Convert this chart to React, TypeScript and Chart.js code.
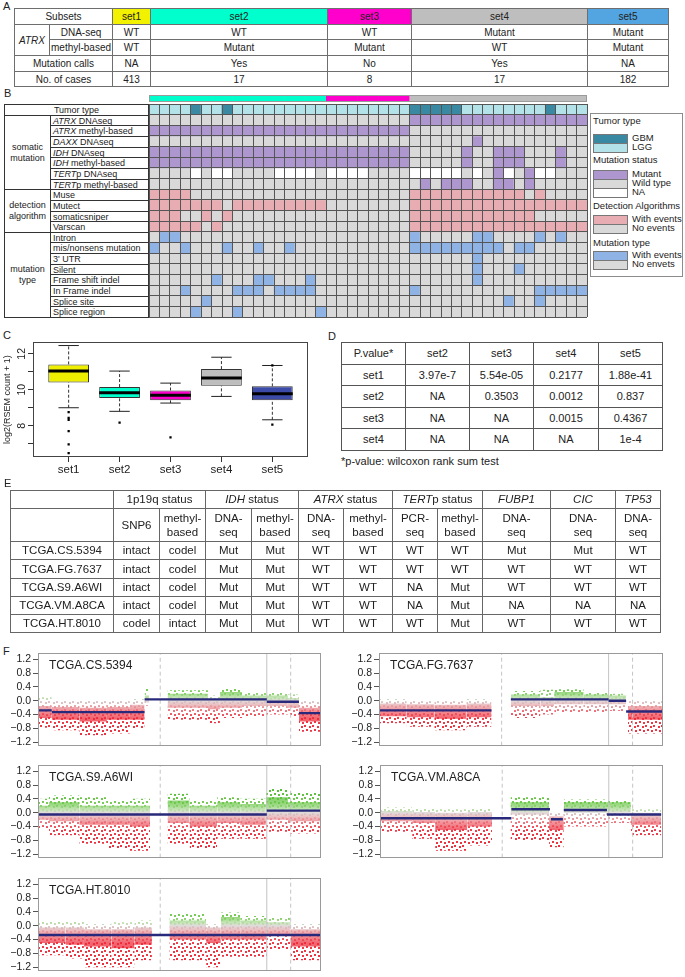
import React, { useEffect, useRef } from 'react';
import { Chart, registerables } from 'chart.js';

Chart.register(...registerables);

const FONT = '"Liberation Sans", Arial, Helvetica, sans-serif';
Chart.defaults.font.family = FONT;
Chart.defaults.color = '#222';

/* ---------------- Panel A data ---------------- */
const subsetNames = ['set1', 'set2', 'set3', 'set4', 'set5'];
const subsetColors = ['#f2f200', '#00ffcc', '#ff00cc', '#bebebe', '#52a5e0'];
const atrxDnaSeq = ['WT', 'WT', 'WT', 'Mutant', 'Mutant'];
const atrxMethyl = ['WT', 'Mutant', 'Mutant', 'WT', 'Mutant'];
const mutationCalls = ['NA', 'Yes', 'No', 'Yes', 'NA'];
const caseCounts = ['413', '17', '8', '17', '182'];

/* ---------------- Panel B data ---------------- */
const heatSetSizes = [17, 8, 17];
const heatSetColors = ['#00ffcc', '#ff00cc', '#bebebe'];
const heatRowKinds = ['tumor', 'mut', 'mut', 'mut', 'mut', 'mut', 'mut', 'mut', 'det', 'det', 'det', 'det', 'type', 'type', 'type', 'type', 'type', 'type', 'type', 'type'];
const heatRows = [
  'LLLLGLLGLLLLLLLLL' + 'LLLLLLLL' + 'GGGGGLLLLLLLLGLLL',
  'WWWWWWWWWWWWWWWWW' + 'WWWWWWWW' + 'MMMMMMMMMMMMMMMMM',
  'MMMMMMMMMMMMMMMMM' + 'MMMMMMMM' + 'WWWWWWWWWWWWWWWWW',
  'WWWWWWWWWWWWWWWWW' + 'WWWWWWWW' + 'WWWWWWMWWWWWWWWWW',
  'MMMMMMMMMMMMMMMMM' + 'MMMMMMMM' + 'WWWWWMWWMMMWWWMWW',
  'MMMMMMMMMMMMMMMMM' + 'MMMMMMMM' + 'WWWWWMWWMMMWWWMWW',
  'WWWWNWNNWWWWNNNNW' + 'NNNNWWWW' + 'NNNNNWNWMNWMNNWWW',
  'WWWWWWWWWWWWWWWWW' + 'WWWWWWWW' + 'WMWMMMWWMMWMWWWWW',
  'EEEENNNNNNNNNNNNN' + 'NNNNNNNN' + 'EEEEEEEEEEENENNNN',
  'EEEEEEENEEEEEEEEE' + 'NNNNNNNN' + 'EEEEEEEEEEEEEEEEE',
  'EEENNENENNNNNNNNN' + 'NNNNNNNN' + 'EEEEEEEEEEEENNNNN',
  'EEEEENENNNNNNNNNN' + 'NNNNNNNN' + 'EEEEEEEEEEEEEEEEE',
  'NBBNNNNNNNNNNNNNN' + 'NNNNNNNN' + 'BNNNNNBBNNNNBNBNN',
  'BNNBNNNBNNBNNBNNN' + 'NNNNNNNN' + 'BBBBBBBBBNBBNNNNN',
  'NNNNNNNNNNNNNNNNN' + 'NNNNNNNN' + 'NNNNNNBNNNNNNNNNN',
  'NNNNNNNNNNNNNNNNN' + 'NNNNNNNN' + 'NNNNNNBNNNBNNNNNN',
  'NNNNNNBNNNBBNNNBN' + 'NNNNNNNN' + 'NNNNNNBNNNNNNNNNN',
  'NNNBNNNNBBBNBBBBN' + 'NNNNNNNN' + 'BNNNNNNNNNNNBBBBB',
  'NNNNNBNNNNNNNNNNN' + 'NNNNNNNN' + 'NNNNNNNNNBNNBNNNN',
  'NNNNBNNNBNNNNNNNB' + 'NNNNNNNN' + 'NNNNNNNNNNNNNNNNN',
];
const heatLabelItalic = ['', 'ATRX', 'ATRX', 'DAXX', 'IDH', 'IDH', 'TERT', 'TERT', '', '', '', '', '', '', '', '', '', '', '', ''];
const heatLabelRest = ['Tumor type', ' DNAseq', ' methyl-based', ' DNAseq', ' DNAseq', ' methyl-based', 'p DNAseq', 'p methyl-based', 'Muse', 'Mutect', 'somaticsniper', 'Varscan', 'Intron', 'mis/nonsens mutation', "3' UTR", 'Silent', 'Frame shift indel', 'In Frame indel', 'Splice site', 'Splice region'];
const heatGroupLabels = ['somatic\nmutation', 'detection\nalgorithm', 'mutation\ntype'];
const heatGroupStarts = [1, 8, 12];
const heatGroupEnds = [8, 12, 20];
const heatPalette: Record<string, Record<string, string>> = {
  tumor: { G: '#3a89a2', L: '#b3e2e8' },
  mut: { M: '#ae96ce', W: '#d9d9d9', N: '#ffffff' },
  det: { E: '#e8adb3', N: '#d9d9d9' },
  type: { B: '#8eb3e4', N: '#d9d9d9' },
};
const legendTitles = ['Tumor type', 'Mutation status', 'Detection Algorithms', 'Mutation type'];
const legendLabels = [['GBM', 'LGG'], ['Mutant', 'Wild type', 'NA'], ['With events', 'No events'], ['With events', 'No envets']];
const legendColors = [
  [heatPalette.tumor.G, heatPalette.tumor.L],
  [heatPalette.mut.M, heatPalette.mut.W, heatPalette.mut.N],
  [heatPalette.det.E, heatPalette.det.N],
  [heatPalette.type.B, heatPalette.type.N],
];

/* ---------------- Panel C data ---------------- */
const boxSets = ['set1', 'set2', 'set3', 'set4', 'set5'];
const boxColors = ['#eeee00', '#00ffcc', '#ff00cc', '#bebebe', '#3c4aa8'];
const boxWhiskerLow = [9.0, 8.8, 9.26, 9.63, 8.33];
const boxQ1 = [10.41, 9.54, 9.41, 10.22, 9.41];
const boxMedian = [11.04, 9.83, 9.69, 10.65, 9.78];
const boxQ3 = [11.41, 10.15, 9.96, 11.15, 10.19];
const boxWhiskerHigh = [12.46, 11.04, 10.37, 11.81, 11.35];
const boxOutliers = [[8.76, 8.44, 8.33, 7.7, 6.96, 6.48], [8.17], [7.35], [], [11.35, 8.06]];
const boxYTicks = [7, 8, 9, 10, 11, 12];

/* ---------------- Panel D data ---------------- */
const pColNames = ['set2', 'set3', 'set4', 'set5'];
const pRowNames = ['set1', 'set2', 'set3', 'set4'];
const pValues = [
  ['3.97e-7', '5.54e-05', '0.2177', '1.88e-41'],
  ['NA', '0.3503', '0.0012', '0.837'],
  ['NA', 'NA', '0.0015', '0.4367'],
  ['NA', 'NA', 'NA', '1e-4'],
];

/* ---------------- Panel E data ---------------- */
const eGroupItalic = ['', 'IDH', 'ATRX', 'TERT', 'FUBP1', 'CIC', 'TP53'];
const eGroupRest = ['1p19q status', ' status', ' status', 'p status', '', '', ''];
const eGroupSpans = [2, 2, 2, 2, 1, 1, 1];
const eSubHeaders = ['SNP6', 'methyl-\nbased', 'DNA-\nseq', 'methyl-\nbased', 'DNA-\nseq', 'methyl-\nbased', 'PCR-\nseq', 'methyl-\nbased', 'DNA-\nseq', 'DNA-\nseq', 'DNA-\nseq'];
const eSamples = ['TCGA.CS.5394', 'TCGA.FG.7637', 'TCGA.S9.A6WI', 'TCGA.VM.A8CA', 'TCGA.HT.8010'];
const eValues = [
  ['intact', 'codel', 'Mut', 'Mut', 'WT', 'WT', 'WT', 'WT', 'Mut', 'Mut', 'WT'],
  ['intact', 'codel', 'Mut', 'Mut', 'WT', 'WT', 'WT', 'WT', 'WT', 'WT', 'WT'],
  ['intact', 'codel', 'Mut', 'Mut', 'WT', 'WT', 'NA', 'Mut', 'WT', 'WT', 'WT'],
  ['intact', 'codel', 'Mut', 'Mut', 'WT', 'WT', 'NA', 'Mut', 'NA', 'NA', 'NA'],
  ['codel', 'intact', 'Mut', 'Mut', 'WT', 'WT', 'WT', 'Mut', 'WT', 'WT', 'WT'],
];

/* ---------------- Panel F data (Mb position, log ratio) ---------------- */
const cnvYTicks = [-1.2, -0.8, -0.4, 0, 0.4, 0.8, 1.2];
const cnvYMin = -1.3;
const cnvYMax = 1.37;
const cnvXMax = 308;
const cnvBoundaries = [133, 249, 275];
const cnvBoundaryDashed = [true, false, true];
// bins: [start, end, low, q1, q3, high]
const cnvBins1 = [
  [0, 15, -0.78, -0.5, -0.15, 0.1], [15, 45, -0.85, -0.55, -0.18, 0.02], [45, 75, -1.0, -0.6, -0.2, 0.0],
  [75, 100, -0.95, -0.55, -0.18, 0.02], [100, 116, -0.8, -0.55, -0.12, 0.05], [116, 121, -0.15, -0.05, 0.15, 0.35],
  [141, 185, -0.55, -0.2, 0.2, 0.3], [185, 198, -0.65, -0.25, 0.05, 0.15], [198, 222, -0.5, -0.2, 0.25, 0.35],
  [222, 249, -0.45, -0.15, 0.15, 0.25], [249, 272, -0.4, -0.15, 0.15, 0.25], [272, 284, -0.45, -0.2, 0.08, 0.18],
  [284, 308, -0.9, -0.6, -0.2, 0.0],
];
const cnvBins2 = [
  [0, 30, -0.65, -0.45, -0.08, 0.05], [30, 60, -0.75, -0.48, -0.1, 0.02], [60, 95, -0.85, -0.52, -0.12, 0.0],
  [95, 122, -0.75, -0.48, -0.08, 0.05], [143, 175, -0.5, -0.15, 0.18, 0.28], [175, 190, -0.4, -0.15, 0.1, 0.32],
  [190, 222, -0.35, -0.1, 0.25, 0.33], [222, 249, -0.35, -0.1, 0.18, 0.25], [249, 268, -0.3, -0.1, 0.15, 0.2],
  [270, 307, -0.95, -0.55, -0.15, 0.0],
];
const cnvBins3 = [
  [0, 12, -0.45, -0.2, 0.2, 0.4], [12, 45, -0.65, -0.25, 0.3, 0.5], [45, 75, -0.9, -0.35, 0.2, 0.45],
  [75, 100, -1.05, -0.35, 0.2, 0.35], [100, 122, -1.1, -0.4, 0.2, 0.4], [141, 165, -0.9, -0.3, 0.35, 0.55],
  [165, 195, -1.05, -0.4, 0.2, 0.35], [195, 220, -0.75, -0.3, 0.3, 0.45], [220, 248, -0.75, -0.35, 0.25, 0.4],
  [248, 272, -0.55, -0.2, 0.45, 0.7], [272, 307, -0.6, -0.25, 0.3, 0.6],
];
const cnvBins4 = [
  [0, 35, -0.55, -0.25, 0.05, 0.15], [35, 60, -0.75, -0.3, 0.02, 0.12], [60, 95, -1.1, -0.5, 0.0, 0.1],
  [95, 122, -0.95, -0.4, 0.02, 0.12], [142, 184, -0.8, -0.05, 0.3, 0.45], [184, 200, -1.0, -0.5, -0.1, 0.0],
  [200, 247, -0.4, 0.0, 0.3, 0.38], [247, 273, -0.3, 0.0, 0.3, 0.35], [273, 306, -0.65, -0.35, 0.0, 0.1],
];
const cnvBins5 = [
  [0, 30, -0.85, -0.5, -0.05, 0.12], [30, 50, -0.95, -0.55, -0.05, 0.12], [50, 80, -1.2, -0.6, -0.1, 0.05],
  [80, 105, -1.2, -0.65, -0.1, 0.1], [105, 124, -1.0, -0.55, -0.05, 0.15], [143, 183, -1.0, -0.4, 0.15, 0.35],
  [183, 199, -1.2, -0.5, -0.05, 0.05], [199, 220, -0.9, -0.4, 0.25, 0.38], [220, 249, -0.9, -0.4, 0.15, 0.28],
  [249, 275, -0.7, -0.3, 0.1, 0.25], [275, 308, -1.0, -0.6, -0.1, 0.05],
];
// segments: [start, end, value]
const cnvSegs1 = [[0, 15, -0.28], [15, 116, -0.33], [116, 249, 0.04], [249, 284, -0.03], [284, 308, -0.36]];
const cnvSegs2 = [[0, 122, -0.28], [143, 249, 0.04], [249, 268, 0.0], [268, 307, -0.31]];
const cnvSegs3 = [[0, 249, -0.05], [249, 308, 0.06]];
const cnvSegs4 = [[0, 143, -0.16], [143, 185, 0.1], [186, 199, -0.19], [200, 247, 0.08], [247, 306, -0.05]];
const cnvSegs5 = [[0, 308, -0.27]];
const cnvColorStops: [number, number[]][] = [
  [0.6, [70, 185, 35]], [0.25, [110, 200, 75]], [0.08, [180, 220, 160]], [0, [212, 204, 204]],
  [-0.12, [228, 168, 172]], [-0.3, [236, 100, 110]], [-0.5, [237, 40, 55]], [-1.3, [232, 20, 35]],
];
// stipple texture (8x8 tile, kept 2x2 dots) used to break the outer point spread into dots
const stippleHoles = [[0, 0], [5, 1], [2, 4], [6, 5]];

/* ---------------- helpers ---------------- */
function ChartBox({ left, top, width, height, make }: { left: number; top: number; width: number; height: number; make: () => any }) {
  const ref = useRef<HTMLCanvasElement>(null);
  useEffect(() => {
    const chart = new Chart(ref.current as HTMLCanvasElement, make());
    return () => chart.destroy();
  }, []);
  return <canvas ref={ref} width={width} height={height} style={{ position: 'absolute', left, top, width, height }} />;
}

const framePlugin = (color: string) => ({
  id: 'frame',
  afterDraw(chart: any) {
    const { ctx, chartArea: a } = chart;
    ctx.save();
    ctx.strokeStyle = color;
    ctx.lineWidth = 1;
    const l = Math.round(a.left), t = Math.round(a.top), r = Math.round(a.right), b = Math.round(a.bottom);
    ctx.strokeRect(l + 0.5, t + 0.5, r - l - 1, b - t - 1);
    ctx.restore();
  },
});

type Cell = { r: number; c: number; rs?: number; cs?: number; t?: React.ReactNode; bg?: string; align?: 'left' | 'center'; pad?: number; lh?: number };
function GridTable({ xs, ys, cells, line, fontSize }: { xs: number[]; ys: number[]; cells: Cell[]; line: string; fontSize: number }) {
  const x0 = xs[0], y0 = ys[0];
  return (
    <div style={{ position: 'absolute', left: x0, top: y0, width: xs[xs.length - 1] - x0 + 1, height: ys[ys.length - 1] - y0 + 1, fontSize }}>
      {cells.map((cl, i) => {
        const cs = cl.cs || 1, rs = cl.rs || 1;
        return (
          <div key={i} style={{
            position: 'absolute', left: xs[cl.c] - x0, top: ys[cl.r] - y0,
            width: xs[cl.c + cs] - xs[cl.c] + 1, height: ys[cl.r + rs] - ys[cl.r] + 1,
            boxSizing: 'border-box', border: `1px solid ${line}`, background: cl.bg || 'transparent',
            display: 'flex', alignItems: 'center', justifyContent: cl.align === 'left' ? 'flex-start' : 'center',
            textAlign: cl.align === 'left' ? 'left' : 'center', paddingLeft: cl.pad || 0,
            lineHeight: cl.lh ? `${cl.lh}px` : 1.1, whiteSpace: 'pre-line', overflow: 'hidden',
          }}>{cl.t}</div>
        );
      })}
    </div>
  );
}

const Letter = ({ t, x, y }: { t: string; x: number; y: number }) => (
  <div style={{ position: 'absolute', left: x, top: y, fontSize: 11, lineHeight: 1 }}>{t}</div>
);

/* ---------------- Panel A ---------------- */
function PanelA() {
  const xs = [14, 49, 112, 150, 327, 411, 587, 668];
  const ys = [8, 24, 39, 55, 71, 86];
  const cells: Cell[] = [{ r: 0, c: 0, cs: 2, t: 'Subsets' }];
  subsetNames.forEach((s, i) => cells.push({ r: 0, c: 2 + i, t: s, bg: subsetColors[i] }));
  cells.push({ r: 1, c: 0, rs: 2, t: <i>ATRX</i> });
  cells.push({ r: 1, c: 1, t: 'DNA-seq' });
  cells.push({ r: 2, c: 1, t: 'methyl-based' });
  cells.push({ r: 3, c: 0, cs: 2, t: 'Mutation calls' });
  cells.push({ r: 4, c: 0, cs: 2, t: 'No. of cases' });
  [atrxDnaSeq, atrxMethyl, mutationCalls, caseCounts].forEach((row, r) =>
    row.forEach((v, i) => cells.push({ r: r + 1, c: 2 + i, t: v })));
  return <GridTable xs={xs} ys={ys} cells={cells} line="#6e6e6e" fontSize={10} />;
}

/* ---------------- Panel B ---------------- */
const heatColumnIds = heatRows[0].split('').map((_, i) => String(i + 1));
const heatColumnSet = heatSetSizes.flatMap((n, s) => Array.from({ length: n }, () => s));

function heatConfig() {
  return {
    type: 'bar',
    data: {
      labels: heatColumnIds,
      datasets: heatRows.map((row, r) => ({
        data: row.split('').map(() => [r, r + 1]),
        backgroundColor: row.split('').map((ch) => heatPalette[heatRowKinds[r]][ch]),
        borderWidth: 0,
        grouped: false,
        barPercentage: 1,
        categoryPercentage: 1,
      })),
    },
    options: {
      responsive: false,
      animation: false,
      layout: { padding: 1 },
      plugins: { legend: { display: false }, tooltip: { enabled: false } },
      scales: {
        x: {
          type: 'category', offset: true,
          grid: { offset: true, color: '#555', lineWidth: 1, drawTicks: false, z: 1 },
          border: { display: false }, ticks: { display: false },
          afterFit: (s: any) => { s.height = 0; },
        },
        y: {
          type: 'linear', min: 0, max: heatRows.length, reverse: true,
          grid: { color: '#555', lineWidth: 1, drawTicks: false, z: 1 },
          border: { display: false }, ticks: { display: false },
          afterBuildTicks: (s: any) => { s.ticks = heatRows.concat(['']).map((_, i) => ({ value: i })); },
          afterFit: (s: any) => { s.width = 0; },
        },
      },
    },
  };
}

function heatHeaderConfig() {
  return {
    type: 'bar',
    data: {
      labels: heatColumnIds,
      datasets: [{
        data: heatColumnIds.map(() => [0, 1]),
        backgroundColor: heatColumnSet.map((s) => heatSetColors[s]),
        borderWidth: 0, barPercentage: 1, categoryPercentage: 1,
      }],
    },
    options: {
      responsive: false, animation: false,
      layout: { padding: { left: 1, right: 1, top: 1, bottom: 1 } },
      plugins: { legend: { display: false }, tooltip: { enabled: false } },
      scales: { x: { display: false }, y: { display: false, min: 0, max: 1 } },
    },
    plugins: [framePlugin('#9a9a9a')],
  };
}

function HeatLabels() {
  const rowH = 10.65;
  const ys = heatRows.concat(['']).map((_, i) => Math.round(104 + i * rowH));
  const xs = [4, 50, 148];
  const cells: Cell[] = [{ r: 0, c: 0, cs: 2, t: heatLabelRest[0], lh: 10 }];
  heatGroupLabels.forEach((g, k) => cells.push({ r: heatGroupStarts[k], c: 0, rs: heatGroupEnds[k] - heatGroupStarts[k], t: g, lh: 11 }));
  for (let i = 1; i < heatRows.length; i++) {
    cells.push({ r: i, c: 1, align: 'left', pad: 2, lh: 10, t: <span>{heatLabelItalic[i] ? <i>{heatLabelItalic[i]}</i> : null}{heatLabelRest[i]}</span> });
  }
  return <GridTable xs={xs} ys={ys} cells={cells} line="#333" fontSize={9} />;
}

function HeatLegend() {
  const titleYs = [121, 160, 206, 243];
  const swatchYs = [134, 170, 215, 251];
  const L = 591, T = 114;
  return (
    <div style={{ position: 'absolute', left: 590, top: 113, width: 93, height: 164, border: '1px solid #8c8c8c', boxSizing: 'border-box', fontSize: 9.5 }}>
      {legendTitles.map((t, g) => (
        <React.Fragment key={g}>
          <div style={{ position: 'absolute', left: 593 - L, top: titleYs[g] - T - 6, lineHeight: '12px', whiteSpace: 'nowrap' }}>{t}</div>
          {legendLabels[g].map((l, k) => (
            <React.Fragment key={k}>
              <div style={{ position: 'absolute', left: 593 - L, top: swatchYs[g] - T + k * 9, width: 35, height: 10, background: legendColors[g][k], border: '1px solid #777', boxSizing: 'border-box' }} />
              <div style={{ position: 'absolute', left: 632 - L, top: swatchYs[g] - T + k * 9 - 1, lineHeight: '10px', whiteSpace: 'nowrap' }}>{l}</div>
            </React.Fragment>
          ))}
        </React.Fragment>
      ))}
    </div>
  );
}

/* ---------------- Panel C ---------------- */
function boxConfig() {
  const seg = (vals: number[], half: number) => vals.flatMap((v, i) => [{ x: i + 1 - half, y: v }, { x: i + 1 + half, y: v }, { x: i + 1, y: null }]);
  const whiskers = boxQ1.flatMap((q, i) => [
    { x: i + 1, y: boxWhiskerLow[i] }, { x: i + 1, y: q }, { x: i + 1, y: null },
    { x: i + 1, y: boxQ3[i] }, { x: i + 1, y: boxWhiskerHigh[i] }, { x: i + 1, y: null },
  ]);
  const outliers = boxOutliers.flatMap((arr, i) => arr.map((v) => ({ x: i + 1, y: v })));
  return {
    type: 'bar',
    data: {
      datasets: [
        { type: 'line', data: seg(boxMedian, 0.4), borderColor: '#000', borderWidth: 3, borderCapStyle: 'butt', pointRadius: 0, fill: false, order: 0 },
        { type: 'scatter', data: outliers, pointStyle: 'rect', pointRadius: 1.6, backgroundColor: '#000', borderWidth: 0, order: 0 },
        { type: 'line', data: [...seg(boxWhiskerLow, 0.2), ...seg(boxWhiskerHigh, 0.2)], borderColor: '#222', borderWidth: 1, pointRadius: 0, fill: false, order: 1 },
        { type: 'line', data: whiskers, borderColor: '#333', borderWidth: 1, borderDash: [3, 2], pointRadius: 0, fill: false, order: 2 },
        {
          type: 'bar', data: boxQ1.map((q, i) => ({ x: i + 1, y: [q, boxQ3[i]] })),
          backgroundColor: boxColors, borderColor: '#333', borderWidth: 1, borderSkipped: false,
          barPercentage: 0.8, categoryPercentage: 1, order: 3,
        },
      ],
    },
    options: {
      responsive: false, animation: false,
      layout: { padding: { top: 6, right: 4, left: 0, bottom: 0 } },
      plugins: { legend: { display: false }, tooltip: { enabled: false } },
      scales: {
        x: {
          type: 'linear', min: 0.3, max: 5.7, offset: false,
          grid: { offset: false, drawOnChartArea: false, tickLength: 5, color: '#333' },
          border: { display: false },
          afterBuildTicks: (s: any) => { s.ticks = boxSets.map((_, i) => ({ value: i + 1 })); },
          afterFit: (s: any) => { s.height = 23; },
          ticks: { autoSkip: false, maxRotation: 0, padding: 1, font: { size: 11.5 }, color: '#222', callback: (v: number) => boxSets[v - 1] ?? '' },
        },
        y: {
          type: 'linear', min: 6.26, max: 12.64,
          grid: { drawOnChartArea: false, tickLength: 5, color: '#333' },
          border: { display: false },
          afterBuildTicks: (s: any) => { s.ticks = boxYTicks.map((v) => ({ value: v })); },
          afterFit: (s: any) => { s.width = 33; },
          ticks: { autoSkip: false, minRotation: 90, maxRotation: 90, crossAlign: 'center', padding: 0, font: { size: 10.5 }, color: '#222', callback: (v: number) => (v % 2 === 0 ? String(v) : '') },
          title: { display: true, text: 'log2(RSEM count + 1)', font: { size: 9 }, color: '#222', padding: { top: 2, bottom: 0 } },
        },
      },
    },
    plugins: [framePlugin('#444')],
  };
}

/* ---------------- Panel D / E ---------------- */
function PanelD() {
  const xs = [341, 405, 469, 533, 598, 662];
  const ys = [342, 364, 385, 407, 428, 450];
  const cells: Cell[] = [{ r: 0, c: 0, t: 'P.value*' }];
  pColNames.forEach((n, i) => cells.push({ r: 0, c: i + 1, t: n }));
  pRowNames.forEach((n, r) => {
    cells.push({ r: r + 1, c: 0, t: n });
    pValues[r].forEach((v, i) => cells.push({ r: r + 1, c: i + 1, t: v }));
  });
  return <GridTable xs={xs} ys={ys} cells={cells} line="#555" fontSize={11} />;
}

function PanelE() {
  const xs = [10, 113, 159, 205, 251, 298, 343, 392, 437, 482, 550, 615, 660];
  const ys = [490, 508, 541, 559, 578, 596, 614, 632];
  const cells: Cell[] = [{ r: 0, c: 0, t: '' }, { r: 1, c: 0, t: '' }];
  let c = 1;
  eGroupSpans.forEach((sp, g) => {
    cells.push({ r: 0, c, cs: sp, t: <span>{eGroupItalic[g] ? <i>{eGroupItalic[g]}</i> : null}{eGroupRest[g]}</span> });
    c += sp;
  });
  eSubHeaders.forEach((h, i) => cells.push({ r: 1, c: i + 1, t: h, lh: 14 }));
  eSamples.forEach((s, r) => {
    cells.push({ r: r + 2, c: 0, t: s });
    eValues[r].forEach((v, i) => cells.push({ r: r + 2, c: i + 1, t: v }));
  });
  return <GridTable xs={xs} ys={ys} cells={cells} line="#666" fontSize={11.5} />;
}

/* ---------------- Panel F ---------------- */
function cnvGradient(chart: any, alpha: number) {
  const { ctx, chartArea, scales } = chart;
  if (!chartArea || !scales.y) return 'rgba(0,0,0,0)';
  const key = `g${alpha}_${chartArea.top}_${chartArea.bottom}`;
  chart.$grad = chart.$grad || {};
  if (chart.$grad[key]) return chart.$grad[key];
  const top = scales.y.getPixelForValue(0.6), bot = scales.y.getPixelForValue(-1.3);
  const g = ctx.createLinearGradient(0, top, 0, bot);
  cnvColorStops.forEach(([v, col]) => g.addColorStop((0.6 - v) / 1.9, `rgba(${col[0]},${col[1]},${col[2]},${alpha})`));
  chart.$grad[key] = g;
  return g;
}

const fmtTick = (v: number) => (v < -1e-9 ? '\u2212' + Math.abs(v).toFixed(1) : Math.abs(v).toFixed(1));

function makeStipplePattern(ctx: CanvasRenderingContext2D) {
  const tile = document.createElement('canvas');
  tile.width = 8;
  tile.height = 8;
  const t = tile.getContext('2d') as CanvasRenderingContext2D;
  t.fillStyle = '#000';
  t.fillRect(0, 0, 8, 8);
  stippleHoles.forEach(([x, y]) => t.clearRect(x, y, 2, 2));
  return ctx.createPattern(tile, 'repeat');
}

function cnvConfig(bins: number[][], segs: number[][], title: string, axisWidth: number) {
  const datasets: any[] = [];
  segs.forEach((s) => datasets.push({ data: [{ x: s[0], y: s[2] }, { x: s[1], y: s[2] }], borderColor: '#28297a', borderWidth: 2.4, borderCapStyle: 'butt', pointRadius: 0, fill: false, order: 0 }));
  cnvBoundaries.forEach((b, i) => datasets.push({ data: [{ x: b, y: cnvYMin }, { x: b, y: cnvYMax }], borderColor: '#c4c4c4', borderWidth: 1, borderDash: cnvBoundaryDashed[i] ? [4, 3] : [], pointRadius: 0, fill: false, order: 1 }));
  const lastOuterIndex = datasets.length + 1;
  bins.forEach((b) => {
    datasets.push({ data: [{ x: b[0], y: b[4] }, { x: b[1], y: b[4] }], fill: { value: b[3] }, backgroundColor: (c: any) => cnvGradient(c.chart, 0.72), borderColor: 'rgba(0,0,0,0)', borderWidth: 1, pointRadius: 0, order: 2 });
    datasets.push({ data: [{ x: b[0], y: b[5] }, { x: b[1], y: b[5] }], fill: { value: b[2] }, backgroundColor: (c: any) => cnvGradient(c.chart, 0.9), borderColor: 'rgba(0,0,0,0)', borderWidth: 1, pointRadius: 0, order: 3 });
  });
  return {
    type: 'line',
    data: { datasets },
    options: {
      responsive: false, animation: false,
      layout: { padding: { top: 6, bottom: 6, right: 4, left: 0 } },
      plugins: { legend: { display: false }, tooltip: { enabled: false } },
      scales: {
        x: { type: 'linear', min: 0, max: cnvXMax, display: false },
        y: {
          type: 'linear', min: cnvYMin, max: cnvYMax,
          afterBuildTicks: (s: any) => { s.ticks = cnvYTicks.map((v) => ({ value: v })); },
          afterFit: (s: any) => { s.width = axisWidth; },
          ticks: { autoSkip: false, callback: (v: number) => fmtTick(v), font: { size: 10.5 }, color: '#222', padding: 2 },
          grid: { drawOnChartArea: false, tickLength: 5, color: '#555' },
          border: { display: false },
        },
      },
    },
    plugins: [
      {
        id: 'stipple',
        afterDatasetDraw(chart: any, args: any) {
          if (args.index !== lastOuterIndex) return;
          const { ctx, chartArea: a } = chart;
          const pattern = makeStipplePattern(ctx);
          if (!pattern) return;
          ctx.save();
          ctx.globalCompositeOperation = 'destination-out';
          ctx.fillStyle = pattern;
          ctx.fillRect(a.left, a.top, a.right - a.left, a.bottom - a.top);
          ctx.restore();
        },
      },
      framePlugin('#9a9a9a'),
      {
        id: 'cnvTitle',
        afterDatasetsDraw(chart: any) {
          const { ctx, chartArea } = chart;
          ctx.save();
          ctx.font = `12px ${FONT}`;
          ctx.fillStyle = '#222';
          ctx.textBaseline = 'middle';
          ctx.fillText(title, chartArea.left + 11, chartArea.top + 12);
          ctx.restore();
        },
      },
    ],
  };
}

export default function App() {
  return (
    <div style={{ position: 'absolute', left: 0, top: 0, width: 685, height: 977, overflow: 'hidden', background: '#fff', fontFamily: FONT, color: '#222' }}>
      <Letter t="A" x={3} y={1} />
      <PanelA />

      <Letter t="B" x={4} y={88} />
      <ChartBox left={148} top={94} width={440} height={9} make={heatHeaderConfig} />
      <HeatLabels />
      <ChartBox left={148} top={103} width={440} height={215} make={heatConfig} />
      <HeatLegend />

      <Letter t="C" x={3} y={330} />
      <ChartBox left={0} top={336} width={312} height={144} make={boxConfig} />

      <Letter t="D" x={328} y={331} />
      <PanelD />
      <div style={{ position: 'absolute', left: 341, top: 455, fontSize: 11, lineHeight: 1.1 }}>*p-value: wilcoxon rank sum test</div>

      <Letter t="E" x={4} y={478} />
      <PanelE />

      <Letter t="F" x={3} y={646} />
      <ChartBox left={0} top={645} width={325} height={109} make={() => cnvConfig(cnvBins1, cnvSegs1, 'TCGA.CS.5394', 38)} />
      <ChartBox left={341} top={645} width={326} height={109} make={() => cnvConfig(cnvBins2, cnvSegs2, 'TCGA.FG.7637', 38)} />
      <ChartBox left={0} top={757} width={325} height={109} make={() => cnvConfig(cnvBins3, cnvSegs3, 'TCGA.S9.A6WI', 38)} />
      <ChartBox left={342} top={757} width={325} height={109} make={() => cnvConfig(cnvBins4, cnvSegs4, 'TCGA.VM.A8CA', 38)} />
      <ChartBox left={0} top={870} width={325} height={109} make={() => cnvConfig(cnvBins5, cnvSegs5, 'TCGA.HT.8010', 38)} />
    </div>
  );
}
